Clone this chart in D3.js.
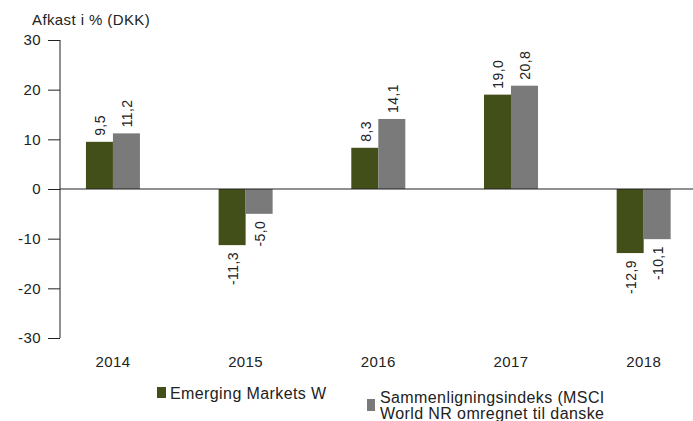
<!DOCTYPE html>
<html>
<head>
<meta charset="utf-8">
<script src="https://cdn.jsdelivr.net/npm/d3@7"></script>
<style>
body { margin: 0; background: #fff; }
svg text { font-family: "Liberation Sans", Arial, sans-serif; fill: #222; letter-spacing: 0.4px; }
</style>
</head>
<body>
<script>
const years = ["2014", "2015", "2016", "2017", "2018"];
const fundValues = [9.5, -11.3, 8.3, 19.0, -12.9];
const indexValues = [11.2, -5.0, 14.1, 20.8, -10.1];
const seriesNames = ["Emerging Markets W", "Sammenligningsindeks (MSCI", "World NR omregnet til danske"];
const seriesColors = ["#434f18", "#7a7a7a"];
const yTicks = [-30, -20, -10, 0, 10, 20, 30];

const width = 693, height = 421;
const svg = d3.select("body").append("svg")
    .attr("width", width)
    .attr("height", height);

let yScale = d3.scaleLinear().domain([-30, 30]).range([338, 40]);
let xScale = d3.scaleBand().domain(years).range([46.6, 710]);
let barW = 27;

// title
svg.append("text")
    .attr("x", 32).attr("y", 25)
    .style("font-size", "15px")
    .text("Afkast i % (DKK)");

// y axis
let axis = d3.axisLeft(yScale).tickValues(yTicks).tickSize(12).tickPadding(7)
    .tickFormat(d => String(d));
let axisGroup = svg.append("g").attr("transform", "translate(60,0)").call(axis);
axisGroup.select(".domain").attr("stroke", "#222").attr("d", "M0,40V338");
axisGroup.selectAll(".tick line").attr("stroke", "#222");
axisGroup.selectAll(".tick text").style("font-size", "15px").attr("fill", "#222");

// bars
let rows = years.map((y, i) => ({ year: y, vals: [fundValues[i], indexValues[i]] }));
let groups = svg.append("g").selectAll("g")
    .data(rows).enter().append("g");

groups.selectAll("rect")
    .data(d => d.vals.map((v, k) => ({ year: d.year, v: v, k: k })))
    .enter().append("rect")
    .attr("x", d => xScale(d.year) + xScale.bandwidth() / 2 - barW + d.k * barW)
    .attr("width", barW)
    .attr("y", d => yScale(Math.max(0, d.v)))
    .attr("height", d => Math.abs(yScale(d.v) - yScale(0)))
    .attr("fill", d => seriesColors[d.k]);

groups.selectAll("text")
    .data(d => d.vals.map((v, k) => ({ year: d.year, v: v, k: k })))
    .enter().append("text")
    .attr("transform", d => {
        let cx = xScale(d.year) + xScale.bandwidth() / 2 - barW / 2 + d.k * barW + 6;
        let yy = d.v >= 0 ? yScale(d.v) - 6 : yScale(d.v) + 7;
        return `translate(${cx},${yy}) rotate(-90)`;
    })
    .attr("text-anchor", d => d.v >= 0 ? "start" : "end")
    .style("font-size", "14px")
    .text(d => d.v.toFixed(1).replace(".", ","));

// zero line
svg.append("line")
    .attr("x1", 60).attr("x2", width)
    .attr("y1", yScale(0)).attr("y2", yScale(0))
    .attr("stroke", "#222").attr("stroke-width", 1.2);

// x labels
svg.append("g").selectAll("text")
    .data(years).enter().append("text")
    .attr("x", d => xScale(d) + xScale.bandwidth() / 2)
    .attr("y", 367)
    .attr("text-anchor", "middle")
    .style("font-size", "15px")
    .text(d => d);

// legend
svg.append("rect").attr("x", 157).attr("y", 387).attr("width", 9).attr("height", 11).attr("fill", seriesColors[0]);
svg.append("text").attr("x", 170).attr("y", 399).style("font-size", "16px").text(seriesNames[0]);

svg.append("rect").attr("x", 367).attr("y", 399).attr("width", 8).attr("height", 12).attr("fill", seriesColors[1]);
let lg = svg.append("text").attr("x", 380).attr("y", 403).style("font-size", "16px");
lg.append("tspan").attr("x", 380).text(seriesNames[1]);
lg.append("tspan").attr("x", 380).attr("dy", 16).text(seriesNames[2]);
</script>
</body>
</html>
